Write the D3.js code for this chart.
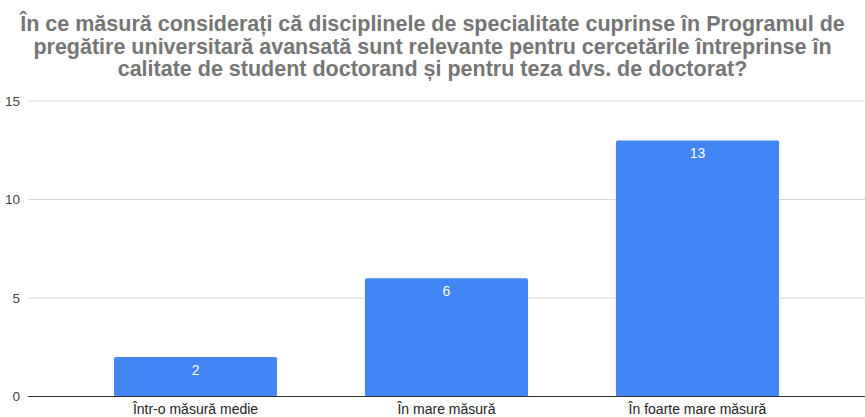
<!DOCTYPE html>
<html>
<head>
<meta charset="utf-8">
<script src="https://cdn.jsdelivr.net/npm/d3@7"></script>
<style>
  body { margin: 0; background: #fff; }
  svg { display: block; font-family: "Liberation Sans", Arial, sans-serif; }
</style>
</head>
<body>
<svg id="chart"></svg>
<script>
// chart data
var titleLines = [
  "În ce măsură considerați că disciplinele de specialitate cuprinse în Programul de",
  "pregătire universitară avansată sunt relevante pentru cercetările întreprinse în",
  "calitate de student doctorand și pentru teza dvs. de doctorat?"
];
var categories = ["Într-o măsură medie", "În mare măsură", "În foarte mare măsură"];
var values = [2, 6, 13];
var yTicks = [0, 5, 10, 15];

var width = 865, height = 417;
var margin = {top: 101, right: 0, bottom: 20.5, left: 28};

var svg = d3.select("#chart")
    .attr("width", width)
    .attr("height", height);

// title
svg.append("g").selectAll("text")
    .data(titleLines)
  .enter().append("text")
    .attr("x", width / 2)
    .attr("y", function(d, i) { return 31 + i * 22.5; })
    .attr("text-anchor", "middle")
    .style("font-size", "21.5px")
    .style("font-weight", "bold")
    .style("fill", "#757575")
    .text(function(d) { return d; });

var x = d3.scaleBand()
    .domain(categories)
    .range([margin.left, width - margin.right])
    .paddingInner(0.35)
    .paddingOuter(0.3425);

var y = d3.scaleLinear()
    .domain([0, 15])
    .range([height - margin.bottom, margin.top]);

// gridlines
svg.append("g")
    .selectAll("line")
    .data(yTicks.filter(function(d) { return d > 0; }))
  .enter().append("line")
    .attr("x1", margin.left)
    .attr("x2", width - margin.right)
    .attr("y1", function(d) { return y(d); })
    .attr("y2", function(d) { return y(d); })
    .attr("stroke", "#d9d9d9")
    .attr("stroke-width", 1);

// y axis labels
var yAxis = svg.append("g")
    .attr("transform", "translate(" + margin.left + ",0)")
    .call(d3.axisLeft(y).tickValues(yTicks).tickSize(0).tickPadding(8));
yAxis.select(".domain").remove();
yAxis.selectAll("text")
    .style("font-size", "13.5px")
    .style("fill", "#444")
    .style("font-family", "Liberation Sans, Arial, sans-serif");

// bars
svg.append("g").selectAll("rect")
    .data(values)
  .enter().append("rect")
    .attr("x", function(d, i) { return x(categories[i]); })
    .attr("y", function(d) { return y(d); })
    .attr("width", x.bandwidth())
    .attr("height", function(d) { return y(0) - y(d); })
    .attr("rx", 2)
    .attr("fill", "#4285f4");

// value labels
svg.append("g").selectAll("text")
    .data(values)
  .enter().append("text")
    .attr("x", function(d, i) { return x(categories[i]) + x.bandwidth() / 2; })
    .attr("y", function(d) { return y(d) + 18; })
    .attr("text-anchor", "middle")
    .style("font-size", "14px")
    .style("fill", "#fff")
    .text(function(d) { return d; });

// baseline
svg.append("line")
    .attr("x1", margin.left)
    .attr("x2", width - margin.right)
    .attr("y1", y(0))
    .attr("y2", y(0))
    .attr("stroke", "#333")
    .attr("stroke-width", 1);

// x axis labels
var xAxis = svg.append("g")
    .attr("transform", "translate(0," + y(0) + ")")
    .call(d3.axisBottom(x).tickSize(0).tickPadding(7.5));
xAxis.select(".domain").remove();
xAxis.selectAll("text")
    .style("font-size", "14px")
    .style("fill", "#222")
    .style("font-family", "Liberation Sans, Arial, sans-serif");
</script>
</body>
</html>
